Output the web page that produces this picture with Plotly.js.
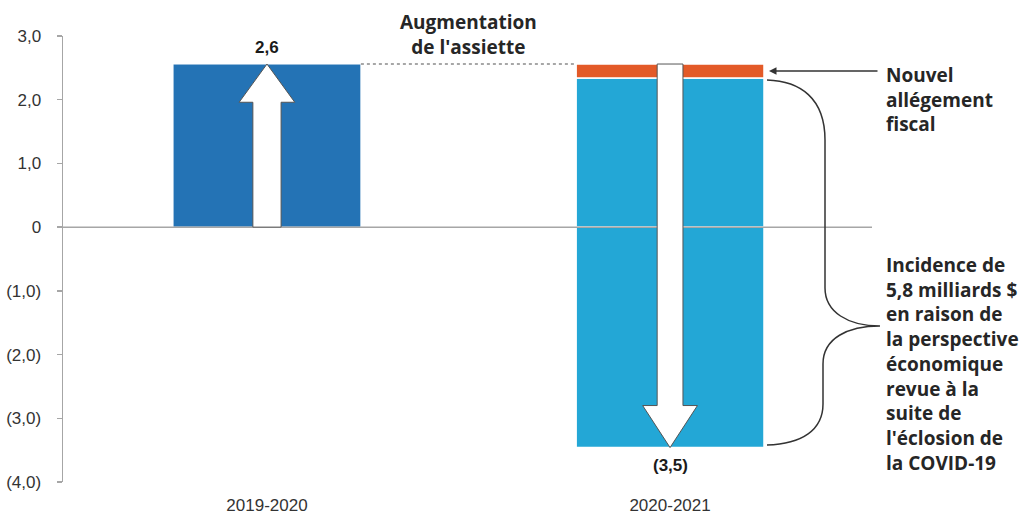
<!DOCTYPE html>
<html>
<head>
<meta charset="utf-8">
<script src="https://cdn.plot.ly/plotly-3.0.1.min.js"></script>
<style>html,body{margin:0;padding:0;background:#fff;}#chart{width:1030px;height:518px;}</style>
</head>
<body>
<div id="chart"></div>
<script>
// ---- data ----
const categories = ['2019-2020', '2020-2021'];
const augmentation = [2.56, null];        // 2019-2020 bar
const covidPositive = [null, 2.34];       // light blue, above zero
const allegement = [null, 0.22];          // orange, stacked on top
const covidNegative = [null, -3.46];      // light blue, below zero
const valueLabels = ['2,6', '(3,5)'];
const yTickVals = [3, 2, 1, 0, -1, -2, -3, -4];
const yTickText = ['3,0', '2,0', '1,0', '0', '(1,0)', '(2,0)', '(3,0)', '(4,0)'];

// ---- layout helpers ----
const W = 1030, H = 518, M = {l: 63, r: 160, t: 36, b: 36};
const pw = W - M.l - M.r, ph = H - M.t - M.b;
const px = x => (x - M.l) / pw;          // pixel -> paper x
const py = y => (H - M.b - y) / ph;      // pixel -> paper y
const xIdx = [0, 1];
const barWidth = 0.466;

const cBlue = '#2473b5', cLight = '#23a7d6', cOrange = '#e35a28';
const lineGray = '#a6a6a6';

const traces = [
  {type: 'bar', x: xIdx, y: augmentation, width: barWidth, marker: {color: cBlue, line: {color: '#ffffff', width: 1}}, hoverinfo: 'skip'},
  {type: 'bar', x: xIdx, y: covidPositive, width: barWidth, marker: {color: cLight, line: {color: '#ffffff', width: 1.5}}, hoverinfo: 'skip'},
  {type: 'bar', x: xIdx, y: allegement, width: barWidth, marker: {color: cOrange, line: {color: '#ffffff', width: 1.5}}, hoverinfo: 'skip'},
  {type: 'bar', x: xIdx, y: covidNegative, width: barWidth, marker: {color: cLight, line: {color: '#ffffff', width: 1.5}}, hoverinfo: 'skip'}
];

// arrows inside the bars (derived from data)
const top2 = covidPositive[1] + allegement[1];
const bot2 = covidNegative[1];
const top1 = augmentation[0];
function upArrow(cx, y0, y1) {
  const s = 0.035, h = 0.069, hl = 0.6;
  return `M${cx - s},${y0} L${cx - s},${y1 - hl} L${cx - h},${y1 - hl} L${cx},${y1} L${cx + h},${y1 - hl} L${cx + s},${y1 - hl} L${cx + s},${y0} Z`;
}
function downArrow(cx, y0, y1) {
  const s = 0.032, h = 0.068, hl = 0.66;
  return `M${cx - s},${y0} L${cx - s},${y1 + hl} L${cx - h},${y1 + hl} L${cx},${y1} L${cx + h},${y1 + hl} L${cx + s},${y1 + hl} L${cx + s},${y0} Z`;
}

// curly brace (pixel coordinates -> paper)
const P = (x, y) => `${px(x)},${py(y)}`;
const bracePath = `M${P(767, 80)} C${P(800, 81)} ${P(825, 98)} ${P(825, 140)} L${P(825, 288)} C${P(825, 312)} ${P(848, 326)} ${P(880, 326)} C${P(848, 326)} ${P(823, 338)} ${P(823, 364)} L${P(823, 404)} C${P(823, 430)} ${P(802, 444)} ${P(767, 445)}`;

const shapes = [
  {type: 'line', xref: 'paper', yref: 'y', x0: 0, x1: px(872), y0: 0, y1: 0, line: {color: lineGray, width: 1.5}, layer: 'above'},
  {type: 'line', xref: 'x', yref: 'y', x0: xIdx[0] + barWidth / 2, x1: xIdx[1] - barWidth / 2, y0: top1, y1: top1, line: {color: '#8a8a8a', width: 1.5, dash: 'dot'}, layer: 'above'},
  {type: 'path', xref: 'x', yref: 'y', path: upArrow(xIdx[0], 0, top1), fillcolor: '#ffffff', line: {color: '#555555', width: 1}, layer: 'above'},
  {type: 'path', xref: 'x', yref: 'y', path: downArrow(xIdx[1], top2, bot2), fillcolor: '#ffffff', line: {color: '#555555', width: 1}, layer: 'above'},
  {type: 'path', xref: 'paper', yref: 'paper', path: bracePath, line: {color: '#333333', width: 1.5}, layer: 'above'}
];

const annFont = {family: '"Open Sans", sans-serif', size: 19, color: '#262626', weight: 700};
const valFont = {family: '"Liberation Sans", Arial, sans-serif', size: 17, color: '#1a1a1a', weight: 700};

const annotations = [
  {xref: 'x', yref: 'y', x: xIdx[0], y: top1, text: valueLabels[0], showarrow: false, yanchor: 'bottom', yshift: 5, font: valFont},
  {xref: 'x', yref: 'y', x: xIdx[1], y: bot2, text: valueLabels[1], showarrow: false, yanchor: 'top', yshift: -6, font: valFont},
  {xref: 'x', yref: 'paper', x: (xIdx[0] + xIdx[1]) / 2, y: py(34.5), text: 'Augmentation<br>de l\'assiette', showarrow: false, xanchor: 'center', yanchor: 'middle', align: 'center', font: annFont},
  {xref: 'paper', yref: 'paper', x: px(884), y: py(100), text: 'Nouvel<br>allégement<br>fiscal', showarrow: false, xanchor: 'left', yanchor: 'middle', align: 'left', font: annFont},
  {xref: 'paper', yref: 'paper', x: px(884), y: py(363.5), text: 'Incidence de<br>5,8 milliards $<br>en raison de<br>la perspective<br>économique<br>revue à la<br>suite de<br>l\'éclosion de<br>la COVID-19', showarrow: false, xanchor: 'left', yanchor: 'middle', align: 'left', font: annFont},
  {xref: 'paper', yref: 'y', x: px(769), y: top2 - allegement[1] / 2, ax: 110, ay: 0, text: '', showarrow: true, arrowhead: 2, arrowsize: 1, arrowwidth: 1.5, arrowcolor: '#333333', standoff: 0}
];

const layout = {
  width: W, height: H,
  margin: M,
  paper_bgcolor: '#ffffff', plot_bgcolor: '#ffffff',
  barmode: 'relative',
  showlegend: false,
  font: {family: '"Liberation Sans", Arial, sans-serif', color: '#333333'},
  xaxis: {
    range: [-0.506, 1.496], tickvals: xIdx, ticktext: categories,
    showline: false, showgrid: false, zeroline: false, ticks: '',
    tickfont: {size: 17, color: '#333333'}, ticklabelstandoff: 11, fixedrange: true
  },
  yaxis: {
    range: [-4, 3], tickvals: yTickVals, ticktext: yTickText,
    showline: true, linecolor: lineGray, linewidth: 1.5,
    ticks: 'outside', ticklen: 5, tickcolor: lineGray, tickwidth: 1.5,
    showgrid: false, zeroline: false,
    tickfont: {size: 17, color: '#333333'}, ticklabelstandoff: 12, fixedrange: true
  },
  shapes: shapes,
  annotations: annotations
};

Plotly.newPlot('chart', traces, layout, {displayModeBar: false, staticPlot: true});
</script>
</body>
</html>
